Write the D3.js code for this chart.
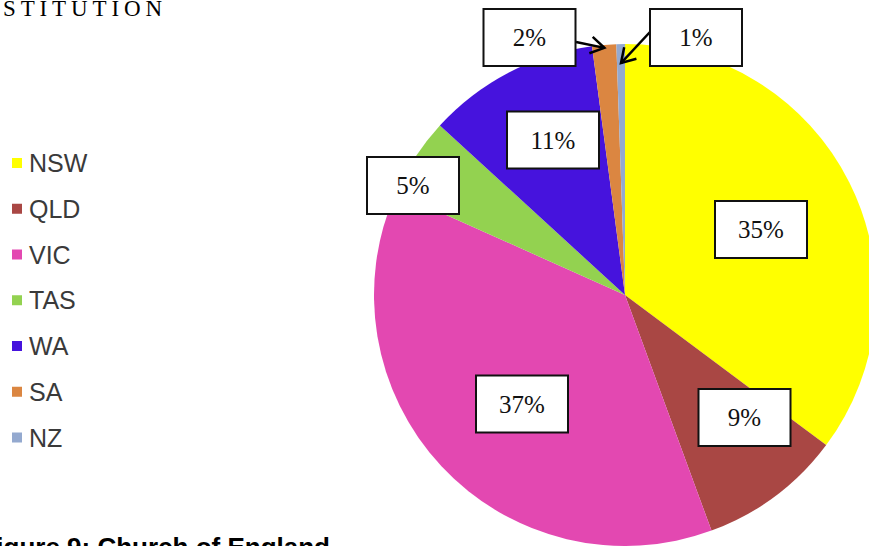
<!DOCTYPE html>
<html>
<head>
<meta charset="utf-8">
<script src="https://cdn.jsdelivr.net/npm/d3@7"></script>
<style>
  html, body { margin: 0; padding: 0; background: #fff; }
  svg { display: block; }
</style>
</head>
<body>
<svg id="chart" width="869" height="546"></svg>
<script>
// ---- data ----
const categories = ["NSW", "QLD", "VIC", "TAS", "WA", "SA", "NZ"];
const shares = [35.2, 9.2, 37.3, 5.1, 11.1, 1.55, 0.55];
const colors = ["#FFFF00", "#A94744", "#E348B1", "#93D250", "#4613DD", "#DB8641", "#94A9CF"];
const headerText = "STITUTION";
const captionText = "Figure 9: Church of England";

// ---- layout (label box centres, as placed in the original) ----
const labelBoxes = [
  [761, 229.5], [744.5, 417.5], [522, 404], [413, 185.5],
  [553, 140], [529.5, 37.5], [696, 37.5]
];
// leader arrows for the small slices: [index, startX, startY, tipRadius]
const arrows = [[5, 576, 42, 248], [6, 650, 32, 232]];

const svg = d3.select("#chart");
const cx = 625, cy = 295, R = 251;

const pie = d3.pie().sort(null).value(d => d).startAngle(0).endAngle(2 * Math.PI);
const arcs = pie(shares);
const arc = d3.arc().innerRadius(0).outerRadius(R);

const g = svg.append("g").attr("transform", `translate(${cx},${cy})`);
g.selectAll("path.slice").data(arcs).enter().append("path")
  .attr("class", "slice")
  .attr("d", arc)
  .attr("fill", (d, i) => colors[i]);

// arrows
arrows.forEach(([i, sx, sy, tr]) => {
  const a = arcs[i];
  const mid = (a.startAngle + a.endAngle) / 2;
  const tx = cx + tr * Math.sin(mid), ty = cy - tr * Math.cos(mid);
  const ang = Math.atan2(ty - sy, tx - sx);
  const L = 16, spread = 0.55;
  svg.append("line").attr("x1", sx).attr("y1", sy).attr("x2", tx).attr("y2", ty)
    .attr("stroke", "#000").attr("stroke-width", 2.5);
  const p1 = [tx - L * Math.cos(ang - spread), ty - L * Math.sin(ang - spread)];
  const p2 = [tx - L * Math.cos(ang + spread), ty - L * Math.sin(ang + spread)];
  svg.append("path")
    .attr("d", `M${p1[0]},${p1[1]} L${tx},${ty} L${p2[0]},${p2[1]}`)
    .attr("fill", "none").attr("stroke", "#000").attr("stroke-width", 2.5)
    .attr("stroke-linejoin", "miter");
});

// label boxes
const bw = 92, bh = 57;
const lab = svg.selectAll("g.lab").data(arcs).enter().append("g")
  .attr("class", "lab")
  .attr("transform", (d, i) => `translate(${labelBoxes[i][0]},${labelBoxes[i][1]})`);
lab.append("rect")
  .attr("x", -bw / 2).attr("y", -bh / 2).attr("width", bw).attr("height", bh)
  .attr("fill", "#fff").attr("stroke", "#111").attr("stroke-width", 2);
lab.append("text")
  .attr("text-anchor", "middle").attr("dy", "0.35em")
  .attr("font-family", "'Liberation Serif', 'DejaVu Serif', serif")
  .attr("font-size", 25).attr("fill", "#111")
  .text(d => Math.round(d.data) + "%");

// legend
const legY = d3.scalePoint().domain(categories).range([163, 437.5]);
const leg = svg.selectAll("g.leg").data(categories).enter().append("g")
  .attr("class", "leg")
  .attr("transform", d => `translate(0,${legY(d)})`);
leg.append("rect").attr("x", 12).attr("y", -5).attr("width", 10).attr("height", 10)
  .attr("fill", (d, i) => colors[i]);
leg.append("text").attr("x", 29).attr("dy", "0.36em")
  .attr("font-family", "'Liberation Sans', Arial, sans-serif")
  .attr("font-size", 25).attr("fill", "#3a3a3a")
  .text(d => d);

// document fragments around the chart
svg.append("text").attr("x", 3).attr("y", 16)
  .attr("font-family", "'Liberation Serif', serif").attr("font-size", 23)
  .attr("textLength", 159).attr("lengthAdjust", "spacing")
  .attr("fill", "#000").text(headerText);
svg.append("text").attr("x", 330).attr("y", 556).attr("text-anchor", "end")
  .attr("font-family", "'Liberation Sans', Arial, sans-serif").attr("font-weight", "bold")
  .attr("font-size", 26).attr("fill", "#000").text(captionText);
</script>
</body>
</html>
